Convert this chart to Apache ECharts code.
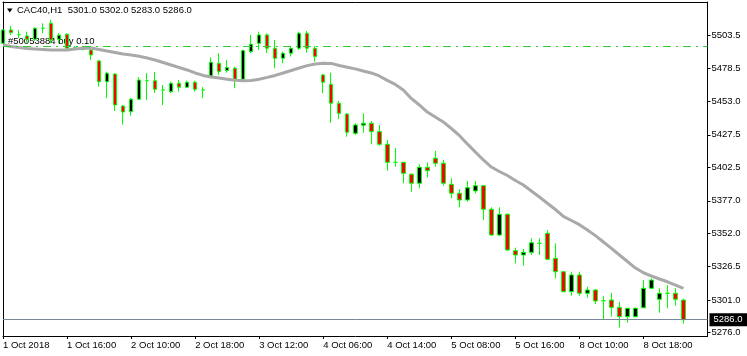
<!DOCTYPE html>
<html>
<head>
<meta charset="utf-8">
<script src="https://cdn.jsdelivr.net/npm/echarts/dist/echarts.min.js"></script>
<style>
html,body{margin:0;padding:0;background:#fff;}
#c{width:747px;height:356px;}
</style>
</head>
<body>
<div id="c"></div>
<script>
// Trading sessions (day, first hour, last hour) -> hourly bar times
const sessions = [['1 Oct', 8, 21], ['2 Oct', 8, 21], ['3 Oct', 8, 19], ['4 Oct', 6, 21], ['5 Oct', 8, 21], ['8 Oct', 8, 23]];
const year = '2018';
const symbolName = 'CAC40,H1';
const orderText = '#50053884 buy 0.10';
const orderPrice = 5495.5;

const opens = [5497.5,5507.7,5504.1,5503.1,5500.6,5509.0,5512.8,5500.6,5504.4,5493.5,5494.0,5492.4,5484.0,5468.1,5474.0,5449.5,5445.2,5454.7,5468.9,5468.9,5461.8,5460.5,5466.9,5463.9,5467.7,5461.8,5472.5,5482.2,5476.6,5478.4,5470.0,5491.1,5497.5,5503.9,5493.7,5486.0,5489.9,5493.7,5505.2,5493.7,5473.3,5466.1,5451.6,5443.4,5428.6,5434.8,5436.3,5429.9,5420.2,5406.4,5406.4,5397.3,5390.4,5402.6,5409.5,5405.7,5389.6,5382.7,5377.6,5384.5,5388.5,5370.5,5350.8,5366.6,5338.8,5335.5,5337.5,5344.4,5352.1,5332.9,5322.7,5307.4,5320.2,5306.2,5308.7,5300.5,5301.0,5295.4,5288.3,5288.3,5295.1,5310.0,5301.6,5306.2,5306.2,5301.0];
const highs = [5508.2,5510.8,5507.7,5506.4,5509.8,5512.8,5515.4,5505.2,5505.2,5495.5,5495.5,5493.9,5484.7,5475.8,5474.5,5450.3,5455.7,5471.7,5474.8,5475.6,5465.6,5468.1,5469.4,5468.9,5468.9,5463.9,5486.8,5489.9,5484.7,5479.6,5492.4,5503.9,5506.4,5505.2,5500.1,5491.1,5494.9,5506.4,5506.9,5495.5,5474.0,5475.0,5453.4,5443.9,5436.3,5443.9,5438.0,5435.0,5423.5,5417.2,5406.9,5398.0,5404.9,5406.4,5415.1,5408.2,5394.2,5385.8,5392.1,5392.1,5389.0,5372.0,5372.0,5367.4,5341.1,5340.1,5348.3,5348.3,5354.6,5344.4,5323.0,5322.7,5322.7,5311.2,5309.5,5304.1,5306.6,5299.7,5294.9,5295.4,5316.3,5317.6,5310.0,5312.5,5310.0,5302.0];
const lows = [5497.0,5503.9,5501.4,5498.0,5499.3,5505.2,5497.5,5497.5,5492.4,5492.5,5492.0,5484.7,5464.3,5455.4,5445.7,5435.2,5442.1,5454.1,5454.1,5459.5,5450.3,5459.3,5460.5,5463.1,5460.5,5455.4,5471.5,5473.3,5475.0,5463.1,5469.4,5489.9,5492.4,5489.9,5478.4,5482.2,5487.3,5492.4,5490.3,5483.4,5459.3,5436.7,5439.4,5426.0,5427.3,5429.1,5420.2,5419.1,5400.0,5403.1,5390.4,5383.9,5386.5,5394.9,5403.1,5388.5,5378.9,5372.0,5376.3,5382.7,5362.3,5350.0,5350.0,5338.8,5329.1,5327.3,5335.5,5335.5,5331.6,5317.6,5307.0,5304.3,5304.3,5302.8,5298.0,5286.3,5288.3,5280.1,5283.7,5287.8,5294.7,5309.5,5291.3,5294.7,5296.7,5283.0];
const closes = [5507.7,5505.6,5504.1,5500.6,5509.0,5509.0,5500.1,5503.7,5493.7,5494.0,5493.0,5488.6,5468.1,5474.6,5450.3,5444.9,5454.7,5469.4,5468.9,5462.3,5461.8,5466.9,5463.9,5467.7,5462.3,5461.8,5483.0,5475.8,5478.9,5470.0,5491.9,5496.8,5503.9,5493.7,5486.0,5489.9,5493.7,5505.2,5493.7,5487.3,5467.7,5451.6,5443.9,5429.4,5435.0,5436.3,5429.9,5420.2,5406.4,5406.4,5398.0,5390.4,5402.6,5400.0,5405.7,5390.4,5382.7,5377.6,5387.0,5388.5,5370.5,5350.8,5366.6,5339.3,5335.5,5337.5,5344.9,5344.4,5332.2,5322.7,5307.4,5320.2,5306.2,5308.7,5300.3,5300.5,5295.4,5288.3,5294.7,5294.7,5310.0,5316.3,5306.2,5306.2,5301.6,5286.0];
const maValues = [5496.2,5495.1,5494.2,5493.5,5493.2,5492.8,5492.4,5492.4,5492.4,5493.2,5493.7,5493.9,5492.8,5491.6,5490.5,5489.3,5488.6,5487.6,5486.3,5484.7,5482.8,5480.9,5479.0,5477.1,5474.8,5472.9,5471.7,5471.0,5470.0,5469.3,5468.9,5469.1,5470.0,5471.4,5472.9,5474.8,5476.7,5478.6,5480.4,5481.7,5482.2,5482.1,5480.5,5479.2,5477.9,5476.3,5474.8,5472.5,5469.1,5466.0,5461.8,5455.3,5450.3,5444.9,5441.1,5437.3,5432.3,5427.0,5420.5,5414.3,5408.2,5402.8,5399.4,5396.3,5392.5,5389.1,5384.5,5379.9,5375.1,5370.3,5365.0,5361.9,5358.7,5354.6,5350.3,5345.4,5340.5,5335.5,5330.5,5325.5,5321.9,5319.4,5317.1,5315.0,5312.5,5310.0];
const yTicks = [5276.0, 5301.0, 5326.5, 5352.0, 5377.0, 5402.5, 5427.5, 5453.0, 5478.5, 5503.5];
const yMin = 5273.5, yMax = 5529.1;
const labelEvery = 8, emptyBarsRight = 3;

const pad = h => (h < 10 ? '0' : '') + h;
const categories = [];
sessions.forEach(([d, a, b]) => { for (let h = a; h <= b; h++) categories.push(d + ' ' + pad(h) + ':00'); });
const axisData = categories.concat(new Array(emptyBarsRight).fill(''));
const candleData = opens.map((o, i) => [o, closes[i], lows[i], highs[i]]);
const last = opens.length - 1;
const lastClose = closes[last];
const showIdx = (i) => i % labelEvery === 0 && i < categories.length;
const FONT = 'Liberation Sans';

const chart = echarts.init(document.getElementById('c'), null, {renderer: 'canvas'});
chart.setOption({
  animation: false,
  backgroundColor: '#fff',
  title: {
    text: symbolName + '  ' + [opens[last], highs[last], lows[last], closes[last]].map(v => v.toFixed(1)).join(' '),
    left: 17, top: 5, padding: 0,
    textStyle: {fontFamily: FONT, fontSize: 9.5, fontWeight: 'normal', color: '#000'}
  },
  graphic: [
    {type: 'polygon', shape: {points: [[7, 8.5], [12.5, 8.5], [9.75, 12.5]]}, style: {fill: '#000'}, silent: true},
    {type: 'text', x: 8, y: 41, z: 1, style: {text: orderText, fontFamily: FONT, fontSize: 9.5, fill: '#000', verticalAlign: 'middle'}, silent: true}
  ],
  grid: {left: 3, right: 39.5, top: 2, bottom: 20, containLabel: false},
  xAxis: [{
    type: 'category', data: axisData, boundaryGap: false,
    axisLine: {show: true, onZero: false, lineStyle: {color: '#000', width: 1}},
    axisTick: {show: true, interval: showIdx, length: 3, lineStyle: {color: '#000'}},
    axisLabel: {show: true, interval: showIdx, align: 'left', margin: 4, fontFamily: FONT, fontSize: 9.5, color: '#000',
      formatter: (v, i) => i === 0 ? sessions[0][0] + ' ' + year : v},
    splitLine: {show: false}
  }, {
    type: 'category', data: axisData, boundaryGap: false, position: 'top',
    axisLine: {show: true, onZero: false, lineStyle: {color: '#000', width: 1}},
    axisTick: {show: false}, axisLabel: {show: false}, splitLine: {show: false}
  }],
  yAxis: [{
    type: 'value', position: 'right', min: yMin, max: yMax, scale: true,
    axisLine: {show: true, onZero: false, lineStyle: {color: '#000', width: 1}},
    axisTick: {show: true, customValues: yTicks, length: 3, lineStyle: {color: '#000'}},
    axisLabel: {show: true, customValues: yTicks, margin: 4, fontFamily: FONT, fontSize: 9.5, color: '#000',
      formatter: v => Number(v).toFixed(1)},
    splitLine: {show: false}
  }, {
    type: 'value', position: 'left', min: yMin, max: yMax, scale: true,
    axisLine: {show: true, onZero: false, lineStyle: {color: '#000', width: 1}},
    axisTick: {show: false}, axisLabel: {show: false}, splitLine: {show: false}
  }],
  series: [{
    type: 'candlestick', data: candleData, barWidth: 4, clip: true,
    itemStyle: {color: '#000000', color0: '#FF0000', borderColor: '#00FF00', borderColor0: '#00FF00', borderWidth: 1},
    markLine: {
      silent: true, symbol: ['none', 'none'], animation: false,
      data: [
        {yAxis: orderPrice, lineStyle: {color: '#32CD32', width: 1, type: [8, 5, 2, 5]}, label: {show: false}},
        {yAxis: lastClose, lineStyle: {color: '#778899', width: 1, type: 'solid'},
          label: {show: true, position: 'end', distance: 2, formatter: lastClose.toFixed(1), color: '#fff',
            backgroundColor: '#000', padding: [2, 6, 1, 4], fontFamily: FONT, fontSize: 9.5}}
      ]
    }
  }, {
    type: 'line', data: maValues, symbol: 'none', showSymbol: false, z: 3,
    lineStyle: {color: '#A9A9A9', width: 3}
  }]
});
</script>
</body>
</html>
